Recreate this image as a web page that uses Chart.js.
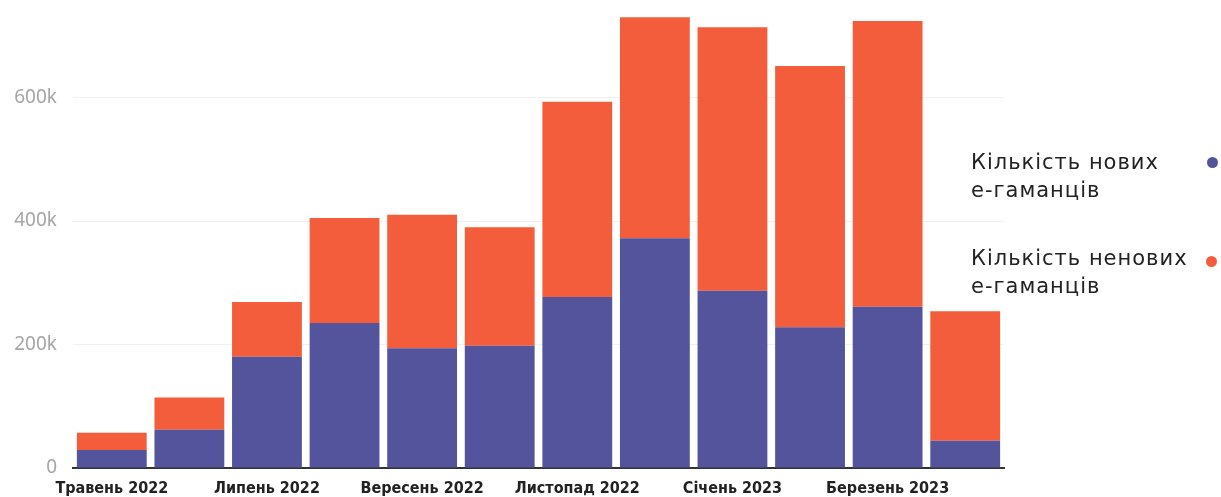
<!DOCTYPE html>
<html>
<head>
<meta charset="utf-8">
<script src="https://cdn.jsdelivr.net/npm/chart.js@4.4.0/dist/chart.umd.min.js"></script>
<style>
  html, body { margin: 0; padding: 0; background: #fff; }
  #wrap { position: relative; width: 1221px; height: 497px; overflow: hidden; }
  #c { position: absolute; left: 0; top: 0; }
  .lg { position: absolute; left: 971px; font-family: "DejaVu Sans", sans-serif; font-size: 21px; letter-spacing: 1px; line-height: 28px; color: #222; white-space: nowrap; }
  .dot { position: absolute; width: 11px; height: 11px; border-radius: 50%; }
</style>
</head>
<body>
<div id="wrap">
  <canvas id="c" width="1221" height="497"></canvas>
  <div class="lg" id="lg1" style="top:148px;"></div>
  <div class="dot" id="d1" style="left:1207px; top:157px;"></div>
  <div class="lg" id="lg2" style="top:244px;"></div>
  <div class="dot" id="d2" style="left:1206px; top:256px;"></div>
</div>
<script>
const categories = ["Травень 2022","Червень 2022","Липень 2022","Серпень 2022","Вересень 2022","Жовтень 2022","Листопад 2022","Грудень 2022","Січень 2023","Лютий 2023","Березень 2023","Квітень 2023"];
const newWallets    = [29000, 62000, 180000, 235000, 194000, 198000, 277000, 372000, 287000, 228000, 261000, 44000];
const notNewWallets = [28000, 52000,  89000, 170000, 216000, 192000, 316000, 358000, 427000, 423000, 463000, 210000];
const yTicks = [0, 200000, 400000, 600000];
const seriesNames = [["Кількість нових", "е-гаманців"], ["Кількість ненових", "е-гаманців"]];
const colors = ["#53549b", "#f45d3b"];

document.getElementById('lg1').innerHTML = seriesNames[0].join('<br>');
document.getElementById('lg2').innerHTML = seriesNames[1].join('<br>');
document.getElementById('d1').style.background = colors[0];
document.getElementById('d2').style.background = colors[1];

function noPad(s) { s.paddingTop = 0; s.paddingBottom = 0; s.paddingLeft = 0; s.paddingRight = 0; }

new Chart(document.getElementById('c'), {
  type: 'bar',
  data: {
    labels: categories,
    datasets: [
      { label: seriesNames[0].join(' '), data: newWallets, backgroundColor: colors[0], borderWidth: 0, barPercentage: 0.9, categoryPercentage: 1 },
      { label: seriesNames[1].join(' '), data: notNewWallets, backgroundColor: colors[1], borderWidth: 0, barPercentage: 0.9, categoryPercentage: 1 }
    ]
  },
  options: {
    responsive: false,
    animation: false,
    devicePixelRatio: 1,
    layout: { padding: { left: 0, right: 217, top: 0, bottom: 0 } },
    plugins: { legend: { display: false }, tooltip: { enabled: false } },
    scales: {
      x: {
        stacked: true,
        grid: { display: false, drawTicks: false },
        border: { display: true, color: '#333', width: 2 },
        ticks: {
          autoSkip: false, maxRotation: 0, minRotation: 0, padding: 11,
          color: '#222',
          font: { family: '"DejaVu Sans Condensed", "DejaVu Sans", sans-serif', size: 16, weight: 'bold' },
          callback: function(v, i) { return i % 2 === 0 ? categories[i] : ''; }
        },
        afterFit: function(s) { s.height = 29; noPad(s); }
      },
      y: {
        stacked: true,
        min: 0, max: 758000,
        grid: { color: '#f0f0f0', lineWidth: 1, drawTicks: false },
        border: { display: false },
        ticks: {
          padding: 16,
          color: '#a5a5a5',
          font: { family: '"Noto Sans", sans-serif', size: 19 },
          callback: function(v) { return v === 0 ? '0' : (v / 1000) + 'k'; }
        },
        afterBuildTicks: function(s) { s.ticks = yTicks.map(v => ({ value: v })); },
        afterFit: function(s) { s.width = 73; noPad(s); }
      }
    }
  }
});
</script>
</body>
</html>
